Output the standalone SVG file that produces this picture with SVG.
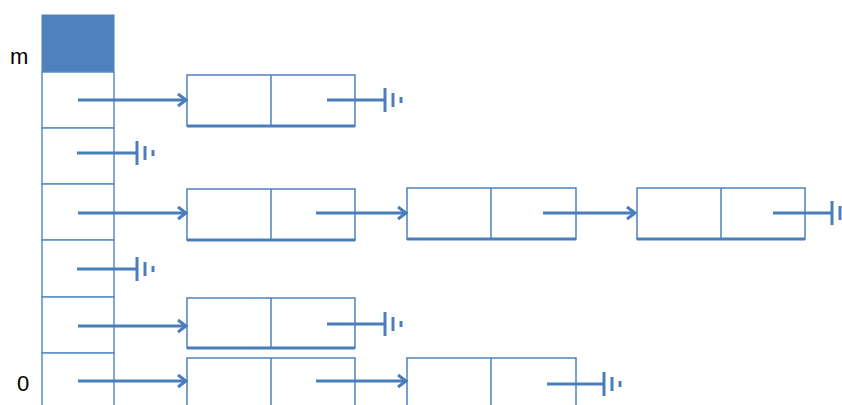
<svg xmlns="http://www.w3.org/2000/svg" width="842" height="405" viewBox="0 0 842 405">
<defs>
<style>
.cell{fill:#fff;stroke:#5B8BC9;stroke-width:1.5}
.box{fill:none;stroke:#4F81BD;stroke-width:1.5}
.shadow{stroke:#4A7EBB;stroke-width:3}
.arr{stroke:#4A7EBB;stroke-width:3;fill:none;marker-end:url(#ah)}
.gnd{stroke:#4A7EBB;stroke-width:3;fill:none}
.lbl{font-family:"Liberation Sans",Arial,sans-serif;font-size:22px;fill:#000}
</style>
<marker id="ah" markerUnits="userSpaceOnUse" markerWidth="14" markerHeight="16" refX="11" refY="8" orient="auto">
<path d="M3,2 L11,8 L3,14" fill="none" stroke="#4A7EBB" stroke-width="3"/>
</marker>
<g id="ground">
<line x1="0" y1="-12" x2="0" y2="12" class="gnd"/>
<line x1="8" y1="-7" x2="8" y2="7" class="gnd"/>
<line x1="16" y1="-3" x2="16" y2="3" class="gnd"/>
</g>
</defs>
<rect width="842" height="405" fill="#fff"/>
<g id="array">
<rect x="42" y="15" width="72" height="57" fill="#4F81BD" stroke="#4F81BD" stroke-width="1"/>
<rect class="cell" x="42" y="72" width="72" height="56"/>
<rect class="cell" x="42" y="128" width="72" height="56"/>
<rect class="cell" x="42" y="184" width="72" height="56"/>
<rect class="cell" x="42" y="240" width="72" height="57"/>
<rect class="cell" x="42" y="297" width="72" height="56"/>
<rect class="cell" x="42" y="353" width="72" height="60"/>
</g>
<g id="labels">
<text class="lbl" x="10" y="64">m</text>
<text class="lbl" x="17" y="391">0</text>
</g>
<g id="node-r1a">
<rect class="box" x="187" y="75" width="168" height="51"/><line class="box" x1="271" y1="75" x2="271" y2="126"/><line class="shadow" x1="187" y1="126" x2="355" y2="126"/>
</g>
<g id="node-r3a">
<rect class="box" x="187" y="189" width="168" height="51"/><line class="box" x1="271" y1="189" x2="271" y2="240"/><line class="shadow" x1="187" y1="240" x2="355" y2="240"/>
</g>
<g id="node-r3b">
<rect class="box" x="407" y="188" width="169" height="51"/><line class="box" x1="491" y1="188" x2="491" y2="239"/><line class="shadow" x1="407" y1="239" x2="576" y2="239"/>
</g>
<g id="node-r3c">
<rect class="box" x="637" y="188" width="168" height="51"/><line class="box" x1="721" y1="188" x2="721" y2="239"/><line class="shadow" x1="637" y1="239" x2="805" y2="239"/>
</g>
<g id="node-r5a">
<rect class="box" x="187" y="298" width="168" height="50"/><line class="box" x1="271" y1="298" x2="271" y2="348"/><line class="shadow" x1="187" y1="348" x2="355" y2="348"/>
</g>
<g id="node-r6a">
<rect class="box" x="187" y="358" width="168" height="60"/><line class="box" x1="271" y1="358" x2="271" y2="418"/>
</g>
<g id="node-r6b">
<rect class="box" x="407" y="358" width="169" height="60"/><line class="box" x1="491" y1="358" x2="491" y2="418"/>
</g>
<g id="connectors">
<line class="arr" x1="78" y1="100" x2="186" y2="100"/>
<line class="gnd" x1="327" y1="100" x2="385" y2="100"/>
<use href="#ground" x="385" y="100"/>
<line class="gnd" x1="77" y1="153" x2="137" y2="153"/>
<use href="#ground" x="137" y="153"/>
<line class="arr" x1="78" y1="213" x2="186" y2="213"/>
<line class="arr" x1="316" y1="213" x2="406" y2="213"/>
<line class="arr" x1="543" y1="213" x2="635" y2="213"/>
<line class="gnd" x1="773" y1="213" x2="832" y2="213"/>
<use href="#ground" x="832" y="213"/>
<line class="gnd" x1="77" y1="269" x2="137" y2="269"/>
<use href="#ground" x="137" y="269"/>
<line class="arr" x1="78" y1="326" x2="186" y2="326"/>
<line class="gnd" x1="327" y1="324" x2="385" y2="324"/>
<use href="#ground" x="385" y="324"/>
<line class="arr" x1="78" y1="381" x2="186" y2="381"/>
<line class="arr" x1="316" y1="381" x2="406" y2="381"/>
<line class="gnd" x1="547" y1="384" x2="604" y2="384"/>
<use href="#ground" x="604" y="384"/>
</g>
</svg>
